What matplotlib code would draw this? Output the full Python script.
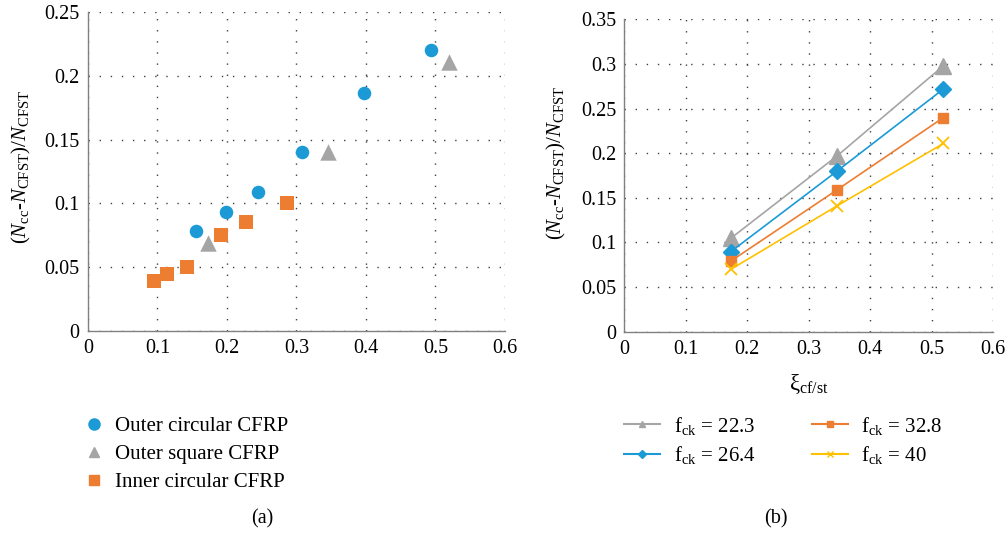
import numpy as np
import matplotlib
matplotlib.use("Agg")
import matplotlib.pyplot as plt
from matplotlib.lines import Line2D

plt.rcParams['font.family'] = ['Liberation Serif', 'DejaVu Serif']
plt.rcParams['mathtext.fontset'] = 'custom'
plt.rcParams['mathtext.rm'] = 'Liberation Serif'
plt.rcParams['mathtext.it'] = 'Liberation Serif:italic'

BLUE = '#1b9ad6'
GREY = '#a5a5a5'
ORANGE = '#ed7d31'
YELLOW = '#ffc000'

# (a) scatter data
outer_circ_x = [0.155, 0.198, 0.245, 0.308, 0.397, 0.493]
outer_circ_y = [0.078, 0.0935, 0.109, 0.140, 0.187, 0.220]
outer_sq_x = [0.173, 0.346, 0.520]
outer_sq_y = [0.069, 0.140, 0.211]
inner_circ_x = [0.095, 0.114, 0.143, 0.191, 0.228, 0.286]
inner_circ_y = [0.039, 0.0445, 0.050, 0.075, 0.085, 0.100]

# (b) line data
xi_b = [0.173, 0.346, 0.519]
fck_223 = [0.1046, 0.197, 0.298]
fck_264 = [0.0896, 0.180, 0.272]
fck_328 = [0.079, 0.159, 0.240]
fck_40 = [0.0698, 0.141, 0.211]

ylabel = r'$(N_{\mathrm{cc}}$-$N_{\mathrm{CFST}})/N_{\mathrm{CFST}}$'
fs = 14.5


def style_axes(ax, ymax, ystep, yticklabels):
    ax.set_xlim(0, 0.6)
    ax.set_ylim(0, ymax)
    ax.set_xticks(np.arange(0, 0.61, 0.1))
    ax.set_xticklabels(['0', '0.1', '0.2', '0.3', '0.4', '0.5', '0.6'], fontsize=fs)
    ax.set_yticks(np.arange(0, ymax + 1e-9, ystep))
    ax.set_yticklabels(yticklabels, fontsize=fs)
    ax.tick_params(length=0, pad=6)
    for s in ['top', 'right']:
        ax.spines[s].set_visible(False)
    for s in ['left', 'bottom']:
        ax.spines[s].set_color('#808080')
        ax.spines[s].set_linewidth(1.0)
    ax.grid(True, linestyle=(0, (1, 7)), color='#404040', linewidth=1.0)
    ax.set_axisbelow(True)
    ax.set_ylabel(ylabel, fontsize=fs + 0.5)


fig = plt.figure(figsize=(10.07, 5.33), dpi=100)

ax1 = fig.add_axes([0.0874, 0.3795, 0.414, 0.5975])
style_axes(ax1, 0.25, 0.05, ['0', '0.05', '0.1', '0.15', '0.2', '0.25'])
ax1.yaxis.set_label_coords(-0.132, 0.514)
ax1.scatter(outer_circ_x, outer_circ_y, s=95, marker='o', color=BLUE, zorder=3, linewidths=0)
ax1.scatter(outer_sq_x, outer_sq_y, s=140, marker='^', color=GREY, zorder=3, linewidths=0)
ax1.scatter(inner_circ_x, inner_circ_y, s=100, marker='s', color=ORANGE, zorder=3, linewidths=0)

h_a = [
    Line2D([], [], marker='o', color=BLUE, linestyle='none', markersize=8),
    Line2D([], [], marker='^', color=GREY, linestyle='none', markersize=7.5),
    Line2D([], [], marker='s', color=ORANGE, linestyle='none', markersize=7.5),
]
fig.legend(h_a, ['Outer circular CFRP', 'Outer square CFRP', 'Inner circular CFRP'],
           loc='upper left', bbox_to_anchor=(0.083, 0.218), frameon=False,
           fontsize=fs + 0.5, handlelength=1.0, handletextpad=0.5, labelspacing=0.4,
           borderpad=0, borderaxespad=0)
fig.text(0.26, 0.018, '(a)', fontsize=fs, ha='center')

ax2 = fig.add_axes([0.62, 0.3777, 0.3664, 0.586])
style_axes(ax2, 0.35, 0.05, ['0', '0.05', '0.1', '0.15', '0.2', '0.25', '0.3', '0.35'])
ax2.yaxis.set_label_coords(-0.152, 0.54)
ax2.plot(xi_b, fck_223, color=GREY, marker='^', markersize=11, linewidth=1.2, zorder=3)
ax2.plot(xi_b, fck_264, color=BLUE, marker='D', markersize=8, linewidth=1.2, zorder=3)
ax2.plot(xi_b, fck_328, color=ORANGE, marker='s', markersize=6.5, linewidth=1.2, zorder=3)
ax2.plot(xi_b, fck_40, color=YELLOW, marker='x', markersize=8, markeredgewidth=1.3,
         linewidth=1.2, zorder=3)
ax2.set_xlabel(r'ξ$_{\mathrm{cf/st}}$', fontsize=fs + 2, labelpad=10)

h_b = [
    Line2D([], [], color=GREY, marker='^', markersize=5, linewidth=1.5),
    Line2D([], [], color=BLUE, marker='D', markersize=4, linewidth=1.5),
    Line2D([], [], color=ORANGE, marker='s', markersize=4.5, linewidth=1.5),
    Line2D([], [], color=YELLOW, marker='x', markersize=5, linewidth=1.5),
]
labels_b = [r'f$_{\mathrm{ck}}$ = 22.3', r'f$_{\mathrm{ck}}$ = 26.4',
            r'f$_{\mathrm{ck}}$ = 32.8', r'f$_{\mathrm{ck}}$ = 40']
fig.legend(h_b, labels_b, ncol=2, loc='upper left', bbox_to_anchor=(0.6197, 0.222),
           frameon=False, fontsize=fs + 0.5, handlelength=1.75, handletextpad=0.63,
           columnspacing=2.7, labelspacing=0.35, borderpad=0, borderaxespad=0)
fig.text(0.77, 0.018, '(b)', fontsize=fs, ha='center')

fig.savefig('out.png', dpi=100)
